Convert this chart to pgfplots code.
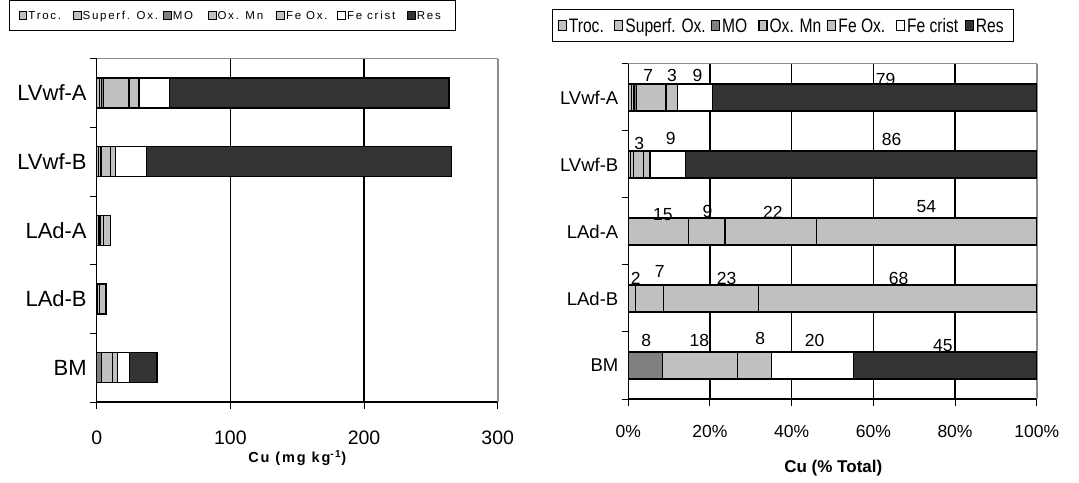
\documentclass[border=0pt]{standalone}
\usepackage{fontspec}
\setmainfont{Liberation Sans}
\newfontfamily\spacedfont[LetterSpace=15]{Liberation Sans}
\newfontfamily\titlefont[LetterSpace=13]{Liberation Sans}
\newfontfamily\narrowfont[FakeStretch=0.8]{Liberation Sans}
\usepackage{pgfplots}
\usepackage{pgfplotstable}
\pgfplotsset{compat=1.18}

\definecolor{fracgray}{HTML}{C0C0C0}
\definecolor{mogray}{HTML}{808080}
\definecolor{resgray}{HTML}{333333}
\definecolor{framegray}{HTML}{8C8C8C}

% Cu fractions (mg/kg); pos 4 = LVwf-A ... pos 0 = BM
\pgfplotstableread{
pos Troc Superf MO OxMn FeOx FeCrist Res
4 1.84 1.84 1.58 18.97 7.38 22.66 209.22
3 1.59 1.59 0 6.90 3.98 23.09 228.24
2 1.55 0.93 0 2.35 5.66 0 0
1 0.13 0.48 0 1.62 4.77 0 0
0 0 0 3.74 8.28 3.78 9.00 20.21
}\cuabs

% Cu fractions (% of total)
\pgfplotstableread{
pos Troc Superf MO OxMn FeOx FeCrist Res
4 0.7 0.7 0.6 7.2 2.8 8.6 79.4
3 0.6 0.6 0 2.6 1.5 8.7 86.0
2 14.8 8.9 0 22.4 53.9 0 0
1 1.8 6.8 0 23.2 68.2 0 0
0 0 0 8.3 18.4 8.4 20.0 44.9
}\cupct

\tikzset{pctlabel/.style={font=\fontsize{17.5}{21}\selectfont,inner sep=0pt}}

\pgfplotsset{
  fracbars/.style={
    scale only axis,
    xbar stacked,
    axis x line*=bottom,
    axis y line*=left,
    ymin=-0.5, ymax=4.5,
    ytick={-0.5,0.5,1.5,2.5,3.5,4.5},
    yticklabels={BM,LAd-B,LAd-A,LVwf-B,LVwf-A},
    y tick label as interval,
    tick align=outside,
    major tick length=6.5pt,
    tick style={draw=black,line width=1pt},
    xmajorgrids,
    major x grid style={black,line width=1.1pt},
    axis line style={black,line width=1.2pt},
    /pgf/number format/assume math mode=true,
    every axis plot/.append style={draw=black,line width=1.3pt},
    legend columns=7,
    legend style={draw=black,line width=1pt,anchor=north west,
      cells={anchor=west},nodes={inner sep=0pt,text depth=0pt}},
    clip=false,
  },
}

\begin{document}
\begin{tikzpicture}[x=1pt,y=1pt]
\useasboundingbox (0,0) rectangle (1079,482);

% ---------- absolute concentrations ----------
\begin{axis}[
  fracbars,
  at={(96.7pt,80pt)}, anchor=south west,
  width=401pt, height=343.3pt,
  xmin=0, xmax=300, xtick={0,100,200,300},
  bar width=30pt,
  yticklabel style={font=\fontsize{22}{26}\selectfont},
  xticklabel style={font=\fontsize{19.5}{23}\selectfont,yshift=-18.5pt},
  xlabel={\titlefont\bfseries\fontsize{14.5}{17}\selectfont Cu (mg kg\textsuperscript{-1})},
  xlabel style={at={(axis description cs:0.5,-0.1768)},anchor=base},
  legend image code/.code={\draw[#1,line width=1pt] (0pt,-3.8pt) rectangle (7.7pt,3.8pt);},
  legend style={at={(axis description cs:-0.218,1.171)},
    inner xsep=9pt, inner ysep=10.5pt,
    font=\spacedfont\fontsize{11.5}{13}\selectfont},
]
\addplot[fill=fracgray] table[x=Troc,y=pos]{\cuabs};
\addlegendentry{\makebox[45.5pt][l]{\hspace{1pt}Troc.}}
\addplot[fill=fracgray] table[x=Superf,y=pos]{\cuabs};
\addlegendentry{\makebox[81.4pt][l]{\hspace{1pt}Superf. Ox.}}
\addplot[fill=mogray] table[x=MO,y=pos]{\cuabs};
\addlegendentry{\makebox[36.1pt][l]{\hspace{1pt}MO}}
\addplot[fill=fracgray] table[x=OxMn,y=pos]{\cuabs};
\addlegendentry{\makebox[59.8pt][l]{\hspace{1pt}Ox. Mn}}
\addplot[fill=fracgray] table[x=FeOx,y=pos]{\cuabs};
\addlegendentry{\makebox[52.4pt][l]{\hspace{1pt}Fe Ox.}}
\addplot[fill=white] table[x=FeCrist,y=pos]{\cuabs};
\addlegendentry{\makebox[61.1pt][l]{\hspace{1pt}Fe crist}}
\addplot[fill=resgray] table[x=Res,y=pos]{\cuabs};
\addlegendentry{\makebox[31pt][l]{\hspace{1pt}Res}}
\draw[framegray,line width=1pt] (rel axis cs:0,1) -- (rel axis cs:1,1);
\draw[framegray,line width=2pt] (rel axis cs:1,1) -- (rel axis cs:1,0);
\end{axis}

% ---------- relative distribution ----------
\begin{axis}[
  fracbars,
  at={(628.3pt,83pt)}, anchor=south west,
  width=408.4pt, height=335pt,
  xmin=0, xmax=100, xtick={0,20,40,60,80,100},
  xticklabel={\pgfmathprintnumber{\tick}\%},
  bar width=27pt,
  yticklabel style={font=\fontsize{18.5}{22}\selectfont},
  xticklabel style={font=\fontsize{17.5}{21}\selectfont,yshift=-16.7pt},
  xlabel={\bfseries\fontsize{17}{20}\selectfont Cu (\% Total)},
  xlabel style={at={(axis description cs:0.502,-0.22)},anchor=base},
  legend image code/.code={\draw[#1,line width=1.1pt] (0pt,-5pt) rectangle (8pt,5pt);},
  legend style={at={(axis description cs:-0.1876,1.1627)},
    inner xsep=5.6pt, inner ysep=8.5pt,
    font=\narrowfont\fontsize{19.5}{23}\selectfont},
  after end axis/.code={
    % rounded percentages written beside the segments
    \node[pctlabel] at (axis cs:4.86,4.336) {7};
    \node[pctlabel] at (axis cs:10.7,4.336) {3};
    \node[pctlabel] at (axis cs:16.97,4.336) {9};
    \node[pctlabel] at (axis cs:63.0,4.273) {79};
    \node[pctlabel] at (axis cs:2.67,3.316) {3};
    \node[pctlabel] at (axis cs:10.41,3.384) {9};
    \node[pctlabel] at (axis cs:64.5,3.370) {86};
    \node[pctlabel] at (axis cs:8.49,2.246) {15};
    \node[pctlabel] at (axis cs:19.39,2.296) {9};
    \node[pctlabel] at (axis cs:35.4,2.291) {22};
    \node[pctlabel] at (axis cs:73.0,2.370) {54};
    \node[pctlabel] at (axis cs:1.82,1.306) {2};
    \node[pctlabel] at (axis cs:7.69,1.396) {7};
    \node[pctlabel] at (axis cs:24.09,1.302) {23};
    \node[pctlabel] at (axis cs:66.2,1.302) {68};
    \node[pctlabel] at (axis cs:4.38,0.376) {8};
    \node[pctlabel] at (axis cs:17.38,0.376) {18};
    \node[pctlabel] at (axis cs:32.3,0.400) {8};
    \node[pctlabel] at (axis cs:45.6,0.376) {20};
    \node[pctlabel] at (axis cs:77.0,0.299) {45};
  },
]
\addplot[fill=fracgray] table[x=Troc,y=pos]{\cupct};
\addlegendentry{\makebox[47.5pt][l]{\hspace{2pt}Troc.}}
\addplot[fill=fracgray] table[x=Superf,y=pos]{\cupct};
\addlegendentry{\makebox[87.5pt][l]{\hspace{2pt}Superf. Ox.}}
\addplot[fill=mogray] table[x=MO,y=pos]{\cupct};
\addlegendentry{\makebox[38.4pt][l]{\hspace{2pt}MO}}
\addplot[fill=fracgray] table[x=OxMn,y=pos]{\cupct};
\addlegendentry{\makebox[59.8pt][l]{\hspace{2pt}Ox. Mn}}
\addplot[fill=fracgray] table[x=FeOx,y=pos]{\cupct};
\addlegendentry{\makebox[59.5pt][l]{\hspace{2pt}Fe Ox.}}
\addplot[fill=white] table[x=FeCrist,y=pos]{\cupct};
\addlegendentry{\makebox[59.8pt][l]{\hspace{2pt}Fe crist}}
\addplot[fill=resgray] table[x=Res,y=pos]{\cupct};
\addlegendentry{\makebox[33.5pt][l]{\hspace{2pt}Res}}
\draw[framegray,line width=1pt] (rel axis cs:0,1) -- (rel axis cs:1,1);
\draw[framegray,line width=2pt] (rel axis cs:1,1) -- (rel axis cs:1,0);
\end{axis}
\end{tikzpicture}
\end{document}
